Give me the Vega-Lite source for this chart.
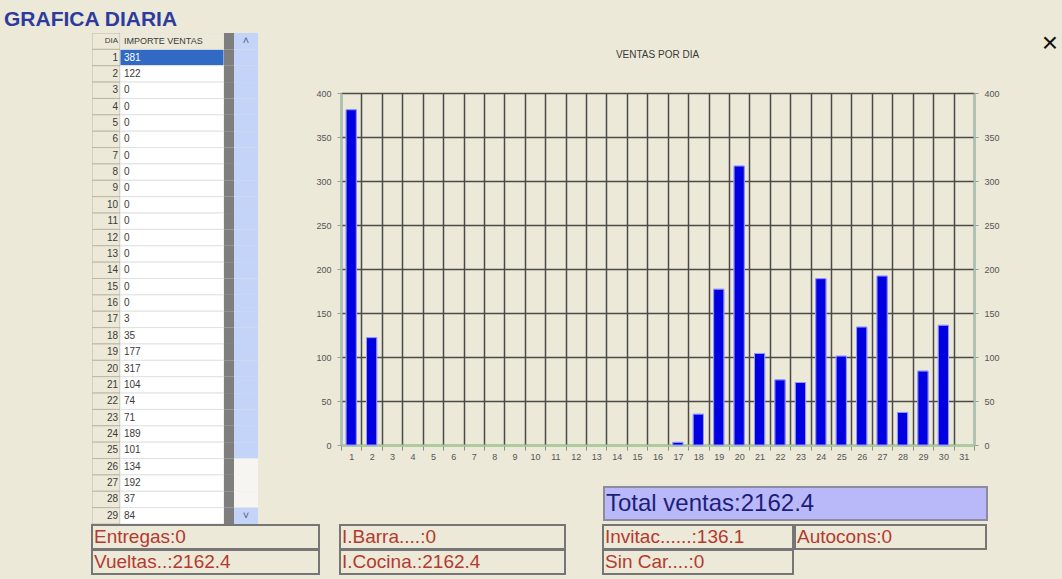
{
  "$schema": "https://vega.github.io/schema/vega-lite/v6.json",
  "background": "#ECE9D8",
  "padding": {"left": 4, "top": 9, "right": 5, "bottom": 5},
  "title": {"text": "GRAFICA DIARIA", "anchor": "start", "dx": -87, "fontSize": 21, "fontWeight": "bold", "color": "#2D3A9E", "font": "Liberation Sans", "offset": -17, "baseline": "alphabetic"},
  "config": {"view": {"stroke": null}, "font": "Liberation Sans"},
  "datasets": {
    "ventas": [
      {"dia": 1, "importe": 381}, {"dia": 2, "importe": 122}, {"dia": 3, "importe": 0}, {"dia": 4, "importe": 0},
      {"dia": 5, "importe": 0}, {"dia": 6, "importe": 0}, {"dia": 7, "importe": 0}, {"dia": 8, "importe": 0},
      {"dia": 9, "importe": 0}, {"dia": 10, "importe": 0}, {"dia": 11, "importe": 0}, {"dia": 12, "importe": 0},
      {"dia": 13, "importe": 0}, {"dia": 14, "importe": 0}, {"dia": 15, "importe": 0}, {"dia": 16, "importe": 0},
      {"dia": 17, "importe": 3}, {"dia": 18, "importe": 35}, {"dia": 19, "importe": 177}, {"dia": 20, "importe": 317},
      {"dia": 21, "importe": 104}, {"dia": 22, "importe": 74}, {"dia": 23, "importe": 71}, {"dia": 24, "importe": 189},
      {"dia": 25, "importe": 101}, {"dia": 26, "importe": 134}, {"dia": 27, "importe": 192}, {"dia": 28, "importe": 37},
      {"dia": 29, "importe": 84}, {"dia": 30, "importe": 136}, {"dia": 31, "importe": 0}
    ],
    "tabla": [
      {"dia": "DIA", "v": "IMPORTE VENTAS"},
      {"dia": "1", "v": "381"}, {"dia": "2", "v": "122"}, {"dia": "3", "v": "0"}, {"dia": "4", "v": "0"},
      {"dia": "5", "v": "0"}, {"dia": "6", "v": "0"}, {"dia": "7", "v": "0"}, {"dia": "8", "v": "0"},
      {"dia": "9", "v": "0"}, {"dia": "10", "v": "0"}, {"dia": "11", "v": "0"}, {"dia": "12", "v": "0"},
      {"dia": "13", "v": "0"}, {"dia": "14", "v": "0"}, {"dia": "15", "v": "0"}, {"dia": "16", "v": "0"},
      {"dia": "17", "v": "3"}, {"dia": "18", "v": "35"}, {"dia": "19", "v": "177"}, {"dia": "20", "v": "317"},
      {"dia": "21", "v": "104"}, {"dia": "22", "v": "74"}, {"dia": "23", "v": "71"}, {"dia": "24", "v": "189"},
      {"dia": "25", "v": "101"}, {"dia": "26", "v": "134"}, {"dia": "27", "v": "192"}, {"dia": "28", "v": "37"},
      {"dia": "29", "v": "84"}
    ]
  },
  "spacing": 0,
  "vconcat": [
    {
      "spacing": 57,
      "hconcat": [
        {
          "spacing": 0,
          "hconcat": [
            {
              "width": 28, "height": 491,
              "data": {"name": "tabla"},
              "layer": [
                {"mark": {"type": "rect", "fill": "#ECE9D8", "stroke": "#BDB8A4", "strokeWidth": 1, "clip": true},
                 "encoding": {"y": {"field": "dia", "type": "ordinal", "sort": null, "axis": null, "scale": {"type": "band", "paddingInner": 0, "paddingOuter": 0}}}},
                {"mark": {"type": "text", "align": "right", "dx": -2, "color": "#3A3A3A", "clip": true},
                 "encoding": {
                   "y": {"field": "dia", "type": "ordinal", "sort": null, "axis": null},
                   "x": {"datum": 1, "type": "quantitative", "scale": {"domain": [0, 1]}, "axis": null},
                   "text": {"field": "dia"},
                   "size": {"condition": {"test": "datum.dia === 'DIA'", "value": 8}, "value": 10}
                 }}
              ]
            },
            {
              "width": 104, "height": 491,
              "data": {"name": "tabla"},
              "layer": [
                {"mark": {"type": "rect", "stroke": "#E2E2E2", "strokeWidth": 1, "clip": true},
                 "encoding": {
                   "y": {"field": "dia", "type": "ordinal", "sort": null, "axis": null, "scale": {"type": "band", "paddingInner": 0, "paddingOuter": 0}},
                   "fill": {"condition": [{"test": "datum.dia === 'DIA'", "value": "#ECE9D8"}, {"test": "datum.dia === '1'", "value": "#316AC5"}], "value": "#FFFFFF"}
                 }},
                {"mark": {"type": "text", "align": "left", "dx": 4, "clip": true},
                 "encoding": {
                   "y": {"field": "dia", "type": "ordinal", "sort": null, "axis": null},
                   "x": {"datum": 0, "type": "quantitative", "scale": {"domain": [0, 1]}, "axis": null},
                   "text": {"field": "v"},
                   "color": {"condition": {"test": "datum.dia === '1'", "value": "#FFFFFF"}, "value": "#3A3A3A"},
                   "size": {"condition": {"test": "datum.dia === 'DIA'", "value": 9}, "value": 10}
                 }}
              ]
            },
            {
              "width": 10, "height": 491,
              "data": {"name": "tabla"},
              "mark": {"type": "rect", "fill": "#7E7E7E", "clip": true},
              "encoding": {"y": {"field": "dia", "type": "ordinal", "sort": null, "axis": null, "scale": {"type": "band", "paddingInner": 0, "paddingOuter": 0}}}
            },
            {
              "width": 24, "height": 491,
              "data": {"name": "tabla"},
              "layer": [
                {"mark": {"type": "rect", "clip": true},
                 "encoding": {
                   "y": {"field": "dia", "type": "ordinal", "sort": null, "axis": null, "scale": {"type": "band", "paddingInner": 0, "paddingOuter": 0}},
                   "fill": {"condition": {"test": "datum.dia === '26' || datum.dia === '27' || datum.dia === '28'", "value": "#F6F5F1"}, "value": "#C4D4F8"}
                 }},
                {"transform": [{"filter": "datum.dia === 'DIA' || datum.dia === '29'"}],
                 "mark": {"type": "text", "fontSize": 11, "color": "#4D6185", "clip": true},
                 "encoding": {
                   "y": {"field": "dia", "type": "ordinal", "sort": null, "axis": null},
                   "text": {"condition": {"test": "datum.dia === 'DIA'", "value": "˄"}, "value": "˅"}
                 }}
              ]
            }
          ]
        },
        {
          "spacing": 41,
          "hconcat": [
            {
              "spacing": 0,
              "vconcat": [
                {"width": 633, "height": 17, "data": {"values": [{}]}, "mark": "text", "encoding": {"text": {"value": ""}}},
                {
                  "width": 633, "height": 352,
                  "title": {"text": "VENTAS POR DIA", "fontSize": 10, "fontWeight": "normal", "color": "#3A3A3A", "offset": 29, "anchor": "middle"},
                  "data": {"name": "ventas"},
                  "transform": [{"filter": "datum.importe > 0"}],
                  "encoding": {
                    "x": {"field": "dia", "type": "ordinal",
                          "scale": {"domain": [1,2,3,4,5,6,7,8,9,10,11,12,13,14,15,16,17,18,19,20,21,22,23,24,25,26,27,28,29,30,31], "paddingInner": 0, "paddingOuter": 0},
                          "axis": {"title": null, "labelAngle": 0, "tickBand": "extent", "grid": true, "gridColor": "#4A4A4A", "gridWidth": 1.5,
                                   "domainColor": "#A4D096", "domainWidth": 2, "tickColor": "#8A8A8A", "tickSize": 5,
                                   "labelFontSize": 9, "labelColor": "#555555", "labelPadding": 2}}
                  },
                  "layer": [
                    {"mark": {"type": "bar", "width": {"band": 0.5}, "color": "#0000E0", "stroke": "#9A9AFF", "strokeWidth": 1},
                     "encoding": {"y": {"field": "importe", "type": "quantitative", "scale": {"domain": [0, 400]},
                       "axis": {"title": null, "orient": "left", "values": [0,50,100,150,200,250,300,350,400], "grid": true, "gridColor": "#4A4A4A", "gridWidth": 1.5,
                                "domainColor": "#A8C4B0", "domainWidth": 2, "tickColor": "#9A9A9A", "tickSize": 4,
                                "labelFontSize": 9, "labelColor": "#555555", "labelPadding": 6}}}},
                    {"mark": {"type": "bar", "width": {"band": 0.5}, "color": "#0000E0", "stroke": "#9A9AFF", "strokeWidth": 1},
                     "encoding": {"y": {"field": "importe", "type": "quantitative", "scale": {"domain": [0, 400]},
                       "axis": {"title": null, "orient": "right", "values": [0,50,100,150,200,250,300,350,400], "grid": false,
                                "domainColor": "#A8C4B0", "domainWidth": 2, "tickColor": "#9A9A9A", "tickSize": 4,
                                "labelFontSize": 9, "labelColor": "#555555", "labelPadding": 6}}}}
                  ],
                  "resolve": {"axis": {"y": "independent"}}
                },
                {"width": 633, "height": 25, "data": {"values": [{}]}, "mark": "text", "encoding": {"text": {"value": ""}}},
                {
                  "spacing": 0,
                  "hconcat": [
                    {"width": 262, "height": 33, "data": {"values": [{}]}, "mark": "text", "encoding": {"text": {"value": ""}}},
                    {
                      "width": 383, "height": 33,
                      "data": {"values": [{"t": "Total ventas:2162.4"}]},
                      "layer": [
                        {"mark": {"type": "rect", "fill": "#B9B9F9", "stroke": "#8C8C9C", "strokeWidth": 2}, "encoding": {}},
                        {"mark": {"type": "text", "align": "left", "baseline": "middle", "dx": 2, "fontSize": 24, "color": "#1E1E7A"},
                         "encoding": {"x": {"datum": 0, "type": "quantitative", "scale": {"domain": [0, 1]}, "axis": null}, "text": {"field": "t"}}}
                      ]
                    }
                  ]
                }
              ]
            },
            {
              "width": 18, "height": 22,
              "data": {"values": [{"t": "×"}]},
              "mark": {"type": "text", "fontSize": 28, "color": "#111111", "baseline": "middle"},
              "encoding": {"text": {"field": "t"}}
            }
          ]
        }
      ]
    },
    {
      "spacing": 36,
      "hconcat": [
        {
          "spacing": 19,
          "hconcat": [
            {
              "width": 227, "height": 49,
              "data": {"values": [{"fila": 1, "t": "Entregas:0"}, {"fila": 2, "t": "Vueltas..:2162.4"}]},
              "layer": [
                {"mark": {"type": "rect", "fill": "#ECE9D8", "stroke": "#767676", "strokeWidth": 2},
                 "encoding": {"y": {"field": "fila", "type": "ordinal", "axis": null, "scale": {"type": "band", "domain": [1, 2], "paddingInner": 0.04, "paddingOuter": 0}}}},
                {"mark": {"type": "text", "align": "left", "dx": 2, "fontSize": 19, "color": "#B5392F"},
                 "encoding": {"y": {"field": "fila", "type": "ordinal", "axis": null}, "x": {"datum": 0, "type": "quantitative", "scale": {"domain": [0, 1]}, "axis": null}, "text": {"field": "t"}}}
              ]
            },
            {
              "width": 225, "height": 49,
              "data": {"values": [{"fila": 1, "t": "I.Barra....:0"}, {"fila": 2, "t": "I.Cocina.:2162.4"}]},
              "layer": [
                {"mark": {"type": "rect", "fill": "#ECE9D8", "stroke": "#767676", "strokeWidth": 2},
                 "encoding": {"y": {"field": "fila", "type": "ordinal", "axis": null, "scale": {"type": "band", "domain": [1, 2], "paddingInner": 0.04, "paddingOuter": 0}}}},
                {"mark": {"type": "text", "align": "left", "dx": 2, "fontSize": 19, "color": "#B5392F"},
                 "encoding": {"y": {"field": "fila", "type": "ordinal", "axis": null}, "x": {"datum": 0, "type": "quantitative", "scale": {"domain": [0, 1]}, "axis": null}, "text": {"field": "t"}}}
              ]
            }
          ]
        },
        {
          "spacing": 0,
          "hconcat": [
            {
              "width": 190, "height": 49,
              "data": {"values": [{"fila": 1, "t": "Invitac......:136.1"}, {"fila": 2, "t": "Sin Car....:0"}]},
              "layer": [
                {"mark": {"type": "rect", "fill": "#ECE9D8", "stroke": "#767676", "strokeWidth": 2},
                 "encoding": {"y": {"field": "fila", "type": "ordinal", "axis": null, "scale": {"type": "band", "domain": [1, 2], "paddingInner": 0.04, "paddingOuter": 0}}}},
                {"mark": {"type": "text", "align": "left", "dx": 2, "fontSize": 19, "color": "#B5392F"},
                 "encoding": {"y": {"field": "fila", "type": "ordinal", "axis": null}, "x": {"datum": 0, "type": "quantitative", "scale": {"domain": [0, 1]}, "axis": null}, "text": {"field": "t"}}}
              ]
            },
            {
              "width": 191, "height": 49,
              "data": {"values": [{"fila": 1, "t": "Autocons:0"}]},
              "layer": [
                {"mark": {"type": "rect", "fill": "#ECE9D8", "stroke": "#767676", "strokeWidth": 2},
                 "encoding": {"y": {"field": "fila", "type": "ordinal", "axis": null, "scale": {"type": "band", "domain": [1, 2], "paddingInner": 0.04, "paddingOuter": 0}}}},
                {"mark": {"type": "text", "align": "left", "dx": 2, "fontSize": 19, "color": "#B5392F"},
                 "encoding": {"y": {"field": "fila", "type": "ordinal", "axis": null}, "x": {"datum": 0, "type": "quantitative", "scale": {"domain": [0, 1]}, "axis": null}, "text": {"field": "t"}}}
              ]
            }
          ]
        }
      ]
    }
  ]
}
